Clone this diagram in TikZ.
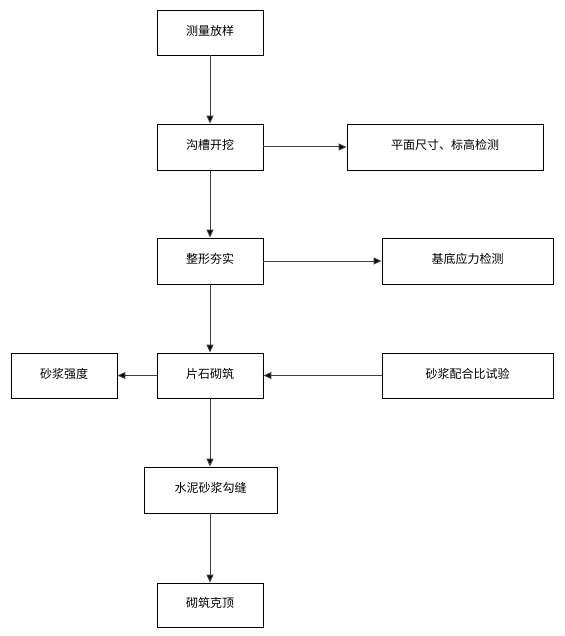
\documentclass[tikz,border=0pt]{standalone}
\usepackage{fontspec}
\newfontfamily\cjk{Noto Sans CJK SC}
\usetikzlibrary{arrows.meta}
\begin{document}
\begin{tikzpicture}[x=1pt,y=-1pt,
  box/.style={draw=black, line width=0.9pt, rectangle, inner sep=0pt, font=\cjk\fontsize{12}{14}\selectfont},
  conn/.style={draw=black!75, line width=1pt, -{Triangle[length=8pt,width=7pt,fill=black]}}]
\path[fill=white] (0,0) rectangle (564,636);
\useasboundingbox (0,0) rectangle (564,636);
\newcommand{\bx}[6]{\node[box, minimum width=#4pt-#2pt, minimum height=#5pt-#3pt] (#1) at ({(#2+#4)/2},{(#3+#5)/2}) {\raisebox{4.5pt}{#6}};}
\bx{a}{157}{10}{263}{55}{测量放样}
\bx{b}{157}{124}{263}{170}{沟槽开挖}
\bx{c}{347}{124}{543}{170}{平面尺寸、标高检测}
\bx{d}{157}{238}{263}{284}{整形夯实}
\bx{e}{382}{238}{553}{284}{基底应力检测}
\bx{f}{157}{353}{263}{398}{片石砌筑}
\bx{g}{11}{353}{117}{398}{砂浆强度}
\bx{h}{382}{353}{553}{398}{砂浆配合比试验}
\bx{i}{144}{467}{277}{513}{水泥砂浆勾缝}
\bx{j}{157}{583}{263}{627}{砌筑克顶}
\draw[conn] (a.south) -- (b.north);
\draw[conn] (b.south) -- (d.north);
\draw[conn] (d.south) -- (f.north);
\draw[conn] (f.south) -- (f.south |- i.north);
\draw[conn] (i.south -| f.south) -- (j.north);
\draw[conn] (b.east) -- (c.west);
\draw[conn] (d.east) -- (e.west);
\draw[conn] (f.west) -- (g.east);
\draw[conn] (h.west) -- (f.east);
\end{tikzpicture}
\end{document}
